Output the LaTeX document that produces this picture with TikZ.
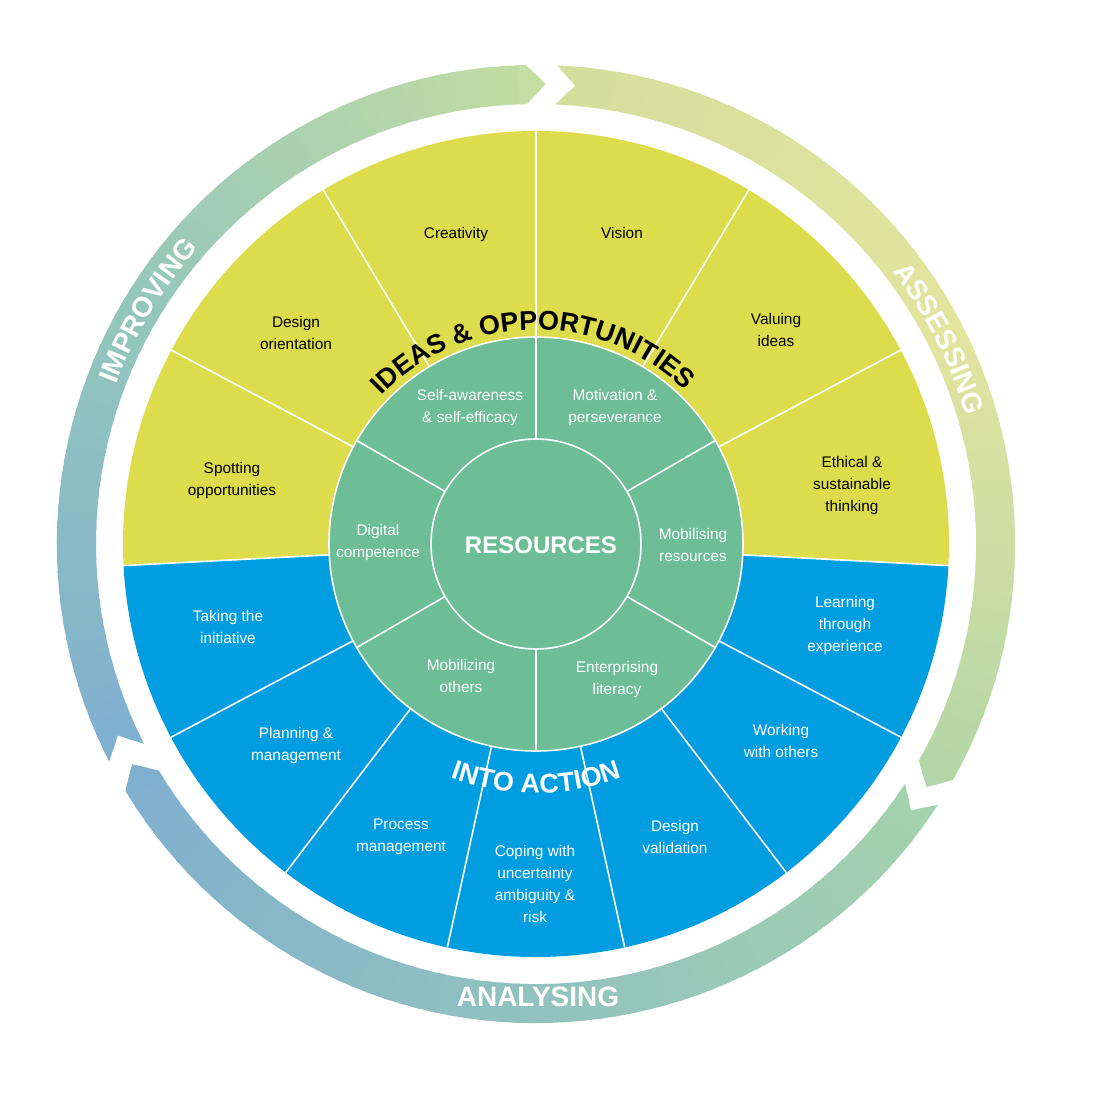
\documentclass[tikz,border=0pt]{standalone}
\usepackage{fontspec}
\setmainfont{Liberation Sans}
\usetikzlibrary{decorations.text}
\definecolor{IdeaYellow}{HTML}{DDDC4C}
\definecolor{ActionBlue}{HTML}{009EE0}
\definecolor{ResGreen}{HTML}{6DBD97}
\definecolor{ImpA}{HTML}{7FAFD0}
\definecolor{ImpB}{HTML}{95C8BA}
\definecolor{ImpC}{HTML}{C6DEA0}
\definecolor{AssA}{HTML}{D4DF9C}
\definecolor{AssB}{HTML}{E3E49E}
\definecolor{AssC}{HTML}{B0D5A8}
\definecolor{AnaA}{HTML}{A4D2AD}
\definecolor{AnaB}{HTML}{90C1BF}
\definecolor{AnaC}{HTML}{7FAFD0}
\newcommand\bandfont{\fontsize{13.5}{16}\selectfont\bfseries}
\newcommand\ringfont{\fontsize{14}{16}\selectfont\bfseries}
\tikzset{seglabel/.style={align=center,font=\fontsize{7.7}{11}\selectfont},
 onyellow/.style={seglabel,text=black},onblue/.style={seglabel,text=white},
 reslabel/.style={text=white,font=\fontsize{12}{14}\selectfont\bfseries},
 divider/.style={draw=white,line width=0.8pt},
 bandtext/.style={decorate,decoration={text along path,text align=center}}}
% one arrow of the outer cycle: start angle, end angle, three colours
\newcommand\cyclearrow[5]{%
 \begin{scope}
 \clip (#1:479) arc[start angle=#1,end angle=#2,radius=479] -- ({#2-2.4}:460)
  -- (#2:440) arc[start angle=#2,end angle=#1,radius=440] -- ({#1-2.4}:460) -- cycle;
 \foreach \k in {0,...,59}{
  \pgfmathsetmacro\ta{(#1)+1-((#1)-(#2)+4)*\k/60}
  \pgfmathsetmacro\tb{(#1)+1-((#1)-(#2)+4)*(\k+1.4)/60}
  \ifnum\k<30
   \pgfmathtruncatemacro\p{100*\k/30}\colorlet{segcol}{#4!\p!#3}
  \else
   \pgfmathtruncatemacro\p{100*(\k-30)/30}\colorlet{segcol}{#5!\p!#4}
  \fi
  \fill[segcol] (\ta:425) arc[start angle=\ta,end angle=\tb,radius=425]
   -- (\tb:495) arc[start angle=\tb,end angle=\ta,radius=495] -- cycle;}
 \end{scope}}
\begin{document}
\begin{tikzpicture}[x=0.5pt,y=0.5pt]
\useasboundingbox (-536,-548) rectangle (560,544);
\cyclearrow{207}{91.2}{ImpA}{ImpB}{ImpC}
\cyclearrow{87.5}{-29.5}{AssA}{AssB}{AssC}
\cyclearrow{-33}{-149}{AnaA}{AnaB}{AnaC}
\path[bandtext,decoration={text color=white,text={|\ringfont|IMPROVING}}]
 (180:449) arc[start angle=180,end angle=118,radius=449];
\path[bandtext,decoration={text color=white,text={|\ringfont|ASSESSING}}]
 (58:449) arc[start angle=58,end angle=-4,radius=449];
\node[text=white,font=\ringfont] (analysing) at (2,-453) {ANALYSING};
% wheel
\fill[IdeaYellow] (0,0) -- (-3:413) arc[start angle=-3,end angle=183,radius=413] -- cycle;
\fill[ActionBlue] (0,0) -- (183:413) arc[start angle=183,end angle=357,radius=413] -- cycle;
\foreach \a in {-3,28,59,90,121,152,183,-27.9,-52.7,-77.6,-102.4,-127.3,-152.1}
 \draw[divider] (\a:207) -- (\a:413);
\draw[divider,fill=ResGreen] (0,0) circle[radius=207];
\foreach \a in {90,30,-30,-90,-150,150}
 \draw[divider] (\a:105) -- (\a:207);
\draw[divider,fill=ResGreen] (0,0) circle[radius=105];
\path[bandtext,decoration={text color=black,text={|\bandfont|IDEAS {\&} OPPORTUNITIES}}]
 (151:214) arc[start angle=151,end angle=31,radius=214];
\path[bandtext,decoration={text color=white,text={|\bandfont|INTO ACTION}}]
 (-120:249) arc[start angle=-120,end angle=-60,radius=249];
\node[reslabel] (resources) at (5,-1) {RESOURCES};
\node[onyellow] (spotting) at (-304,63) {Spotting\\opportunities};
\node[onyellow] (design) at (-240,211) {Design\\orientation};
\node[onyellow] (creativity) at (-80,309) {Creativity};
\node[onyellow] (vision) at (86,311) {Vision};
\node[onyellow] (valuing) at (240,214) {Valuing\\ideas};
\node[onyellow] (ethical) at (316,58) {Ethical \&\\sustainable\\thinking};
\node[onblue] (learning) at (309,-82) {Learning\\through\\experience};
\node[onblue] (working) at (245,-197) {Working\\with others};
\node[onblue] (validation) at (139,-293) {Design\\validation};
\node[onblue] (coping) at (-1,-340) {Coping with\\uncertainty\\ambiguity \&\\risk};
\node[onblue] (process) at (-135,-293) {Process\\management};
\node[onblue] (planning) at (-240,-202) {Planning \&\\management};
\node[onblue] (initiative) at (-308,-83) {Taking the\\initiative};
\node[onblue] (selfaware) at (-66,136) {Self-awareness\\\& self-efficacy};
\node[onblue] (motivation) at (79,136) {Motivation \&\\perseverance};
\node[onblue] (mobres) at (157,-1) {Mobilising\\resources};
\node[onblue] (enterprising) at (81,-136) {Enterprising\\literacy};
\node[onblue] (mobothers) at (-75,-132) {Mobilizing\\others};
\node[onblue] (digital) at (-158,1) {Digital\\competence};
\end{tikzpicture}
\end{document}
